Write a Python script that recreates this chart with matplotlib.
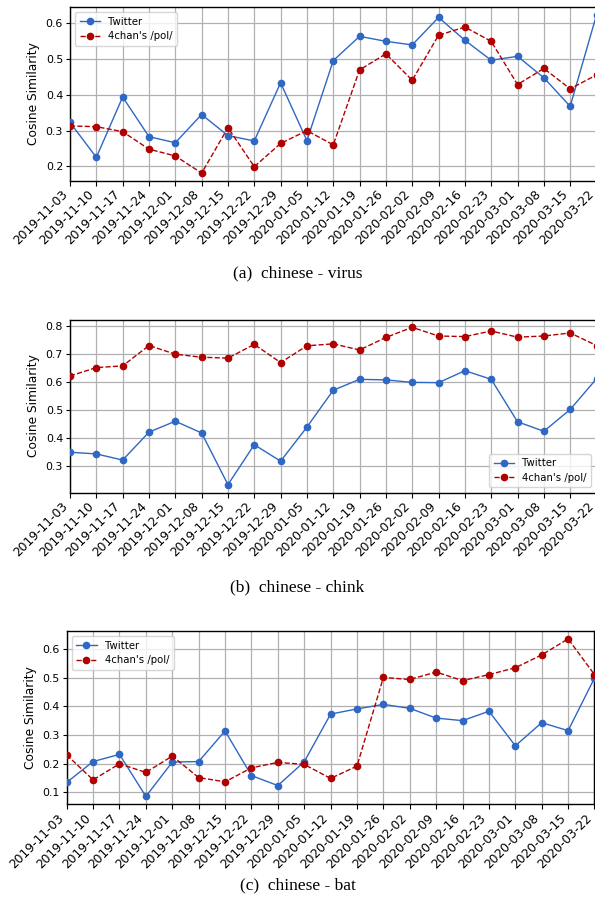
import matplotlib
matplotlib.use("Agg")
import matplotlib.pyplot as plt
import numpy as np

dates = ["2019-11-03", "2019-11-10", "2019-11-17", "2019-11-24", "2019-12-01",
         "2019-12-08", "2019-12-15", "2019-12-22", "2019-12-29", "2020-01-05",
         "2020-01-12", "2020-01-19", "2020-01-26", "2020-02-02", "2020-02-09",
         "2020-02-16", "2020-02-23", "2020-03-01", "2020-03-08", "2020-03-15",
         "2020-03-22"]

virus_twitter = [0.323, 0.225, 0.394, 0.283, 0.266, 0.345, 0.286, 0.271, 0.434,
                 0.272, 0.496, 0.564, 0.550, 0.540, 0.617, 0.553, 0.497, 0.508,
                 0.448, 0.368, 0.624]
virus_pol = [0.313, 0.311, 0.297, 0.248, 0.229, 0.181, 0.308, 0.199, 0.264,
             0.300, 0.260, 0.470, 0.515, 0.441, 0.567, 0.590, 0.550, 0.429,
             0.474, 0.417, 0.456]

chink_twitter = [0.348, 0.342, 0.320, 0.420, 0.459, 0.417, 0.232, 0.375, 0.316,
                 0.438, 0.570, 0.609, 0.607, 0.598, 0.597, 0.640, 0.609, 0.457,
                 0.423, 0.501, 0.611]
chink_pol = [0.621, 0.651, 0.657, 0.730, 0.699, 0.688, 0.685, 0.734, 0.669,
             0.729, 0.736, 0.714, 0.759, 0.795, 0.764, 0.762, 0.782, 0.760,
             0.764, 0.775, 0.730]

bat_twitter = [0.134, 0.207, 0.232, 0.085, 0.205, 0.207, 0.314, 0.158, 0.123,
               0.206, 0.373, 0.391, 0.407, 0.393, 0.359, 0.350, 0.383, 0.262,
               0.343, 0.315, 0.499]
bat_pol = [0.230, 0.143, 0.199, 0.169, 0.226, 0.151, 0.136, 0.185, 0.204,
           0.197, 0.148, 0.191, 0.501, 0.494, 0.520, 0.490, 0.511, 0.535,
           0.580, 0.636, 0.511]

captions = ["(a)  chinese - virus", "(b)  chinese - chink", "(c)  chinese - bat"]
series_names = ["Twitter", "4chan's /pol/"]

panels = [(virus_twitter, virus_pol, "upper left"),
          (chink_twitter, chink_pol, "lower right"),
          (bat_twitter, bat_pol, "upper left")]

W, H = 595, 907
fig = plt.figure(figsize=(W / 100, H / 100), dpi=100)

# axes boxes in pixels: left, right, top, bottom
boxes = [(70, 596.5, 7, 181), (70, 596.5, 319.5, 492.5), (66.7, 594.5, 631, 804.3)]
cap_y = [273, 587, 885]

blue = "#2f67c4"
red = "#b00000"

for (tw, pol, loc), (l, r, t, b), cap, cy in zip(panels, boxes, captions, cap_y):
    ax = fig.add_axes([l / W, 1 - b / H, (r - l) / W, (b - t) / H])
    x = np.arange(len(dates))
    ax.plot(x, tw, color=blue, linestyle="-", linewidth=1.0, marker="o",
            markersize=4.5, label=series_names[0], zorder=3)
    ax.plot(x, pol, color=red, linestyle="--", linewidth=1.0, marker="o",
            markersize=4.5, label=series_names[1], zorder=3)
    ax.set_xlim(0, len(dates) - 1)
    ax.margins(y=0.05)
    ax.set_xticks(x)
    ax.set_xticklabels(dates, rotation=45, ha="right", fontsize=8.8)
    ax.tick_params(axis="y", labelsize=7.9, length=3, width=0.8, pad=2)
    ax.tick_params(axis="x", length=3.5, width=0.8, pad=1.5)
    ax.set_ylabel("Cosine Similarity", fontsize=8.8, labelpad=4)
    ax.grid(True, color="#b0b0b0", linewidth=0.9)
    ax.set_axisbelow(True)
    for s in ax.spines.values():
        s.set_linewidth(1.0)
    ax.legend(loc=loc, fontsize=7.3, framealpha=0.8, borderpad=0.45,
              handlelength=2.0, labelspacing=0.45)
    fig.text(0.5, 1 - cy / H, cap, ha="center", va="center",
             fontsize=12.5, family=["Liberation Serif", "DejaVu Serif"])

fig.savefig("out.png", dpi=100)
